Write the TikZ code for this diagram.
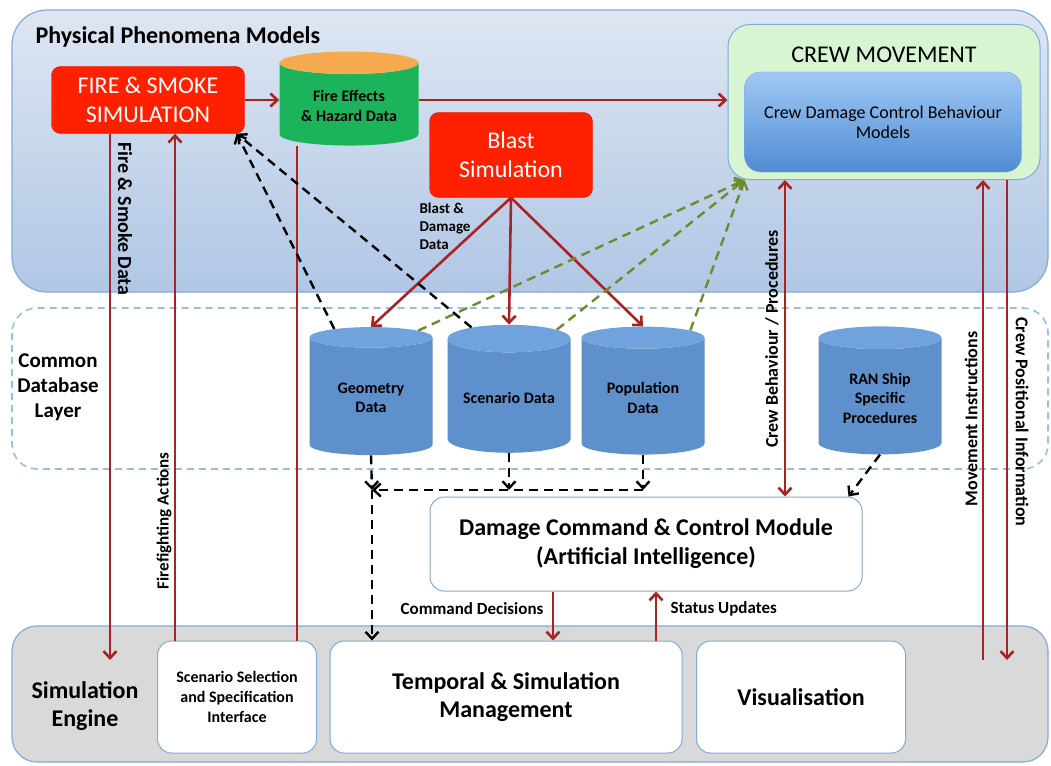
\documentclass[tikz,border=0pt]{standalone}
\usepackage{fontspec}
\setmainfont{Carlito}
\usetikzlibrary{shapes.geometric,arrows.meta}
\definecolor{darkred}{RGB}{170,35,35}
\definecolor{firered}{RGB}{255,32,0}
\definecolor{edgeblue}{RGB}{130,170,220}
\definecolor{dbblue}{RGB}{94,144,204}
\definecolor{dbtop}{RGB}{112,162,220}
\definecolor{hazgreen}{RGB}{28,180,90}
\definecolor{hazorange}{RGB}{245,170,80}
\definecolor{crewgreen}{RGB}{214,245,208}
\definecolor{dashgreen}{RGB}{110,140,45}
\newcommand{\fs}[1]{\fontsize{#1}{#1}\selectfont}
\begin{document}
\begin{tikzpicture}[x=1pt,y=-1pt,
  region/.style={draw=edgeblue,line width=1.2pt,rounded corners=35pt},
  redbox/.style={rectangle,rounded corners=9pt,fill=firered,draw=firered!85!black,text=white,align=center,font=\fs{24}\linespread{1.2}\selectfont},
  dbase/.style={cylinder,shape border rotate=90,aspect=0.28,draw=none,cylinder uses custom fill,cylinder body fill=dbblue,cylinder end fill=dbtop,minimum width=123pt,minimum height=128pt,align=center,font=\bfseries\fs{16}\linespread{1.22}\selectfont},
  whitebox/.style={rectangle,rounded corners=14pt,fill=white,draw=edgeblue,line width=1pt,align=center,font=\bfseries\fs{24}\linespread{1.17}\selectfont},
  flow/.style={draw=darkred,line width=2.6pt,-{Straight Barb[length=7pt,width=13pt]}},
  link/.style={draw=black,line width=2.4pt,dash pattern=on 9pt off 6pt,-{Straight Barb[length=7pt,width=13pt]}},
  hint/.style={draw=dashgreen,line width=2.4pt,dash pattern=on 9pt off 6pt,-{Straight Barb[length=7pt,width=13pt]}},
  tag/.style={font=\bfseries\fs{17}},
  layer/.style={font=\bfseries\fs{21}\linespread{1.2}\selectfont,align=center}]
\useasboundingbox[fill=white] (0,0) rectangle (1051,765);
\draw[region,top color={rgb,255:red,222;green,230;blue,242},bottom color={rgb,255:red,176;green,199;blue,229}] (12,10) rectangle (1048,292);
\draw[region,dash pattern=on 7pt off 5pt,draw={rgb,255:red,150;green,190;blue,230},line width=1.6pt,rounded corners=25pt] (12,308) rectangle (1048,469);
\draw[region,fill={rgb,255:red,217;green,217;blue,217},rounded corners=25pt] (12,626) rectangle (1048,762);
\node at (32,37) [anchor=west,font=\bfseries\fs{24}] (phys) {Physical Phenomena Models};
\node at (58,387) [layer] (cdb) {Common\\Database\\Layer};
\node at (85,706) [layer,font=\bfseries\fs{24}\linespread{1.17}\selectfont] (eng) {Simulation\\Engine};
\node at (148,100) [redbox,minimum width=193pt,minimum height=67pt] (fire) {FIRE \& SMOKE\\SIMULATION};
\node at (349,106) [cylinder,shape border rotate=90,aspect=0.22,cylinder uses custom fill,cylinder body fill=hazgreen,cylinder end fill=hazorange,minimum width=139pt,minimum height=94pt,align=center,font=\bfseries\fs{16}\linespread{1.2}\selectfont] (hazard) {Fire Effects\\\& Hazard Data};
\node at (511,155) [redbox,minimum width=163pt,minimum height=85pt] (blast) {Blast\\Simulation};
\node at (884,102) [rectangle,rounded corners=22pt,fill=crewgreen,draw=edgeblue,line width=1pt,minimum width=312pt,minimum height=155pt] (crew) {};
\node at (884,55) [font=\fs{24}] (crewtitle) {CREW MOVEMENT};
\node at (883,122) [rectangle,rounded corners=16pt,top color={rgb,255:red,160;green,200;blue,245},bottom color={rgb,255:red,80;green,140;blue,212},draw=edgeblue,minimum width=277pt,minimum height=100pt,align=center,font=\fs{18}\linespread{1.12}\selectfont] (models) {Crew Damage Control Behaviour\\Models};
\node at (371,398) [dbase] (geom) {Geometry\\Data};
\node at (509,398) [dbase] (scen) {Scenario Data};
\node at (643,398) [dbase] (popl) {Population\\Data};
\node at (880,398) [dbase] (ran) {RAN Ship\\Specific\\Procedures};
\node at (646,544) [whitebox,minimum width=432pt,minimum height=94pt,font=\bfseries\fs{24}\linespread{1.2}\selectfont] (dcc) {Damage Command \& Control Module\\(Artificial Intelligence)};
\node at (237,697) [whitebox,minimum width=159pt,minimum height=112pt,font=\bfseries\fs{16}\linespread{1.25}\selectfont] (sel) {Scenario Selection\\and Specification\\Interface};
\node at (506,697) [whitebox,minimum width=352pt,minimum height=112pt] (temporal) {Temporal \& Simulation\\Management};
\node at (801,697) [whitebox,minimum width=209pt,minimum height=112pt] (vis) {Visualisation};
\coordinate (fsdata) at (110,660);
\coordinate (bus) at (372,490);
\coordinate (mvin) at (983,660);
\coordinate (cpos) at (1007,660);
\draw[flow] (fire.east) -- (fire.east -| hazard.west);
\draw[flow] (hazard.east |- fire.east) -- (fire.east -| crew.west);
\draw[flow] (fsdata |- fire.south) -- (fsdata);
\draw[flow] ([xshift=-62pt]sel.north) -- ([xshift=-62pt]sel.north |- fire.south);
\draw[darkred,line width=2.6pt] ([xshift=-52pt]hazard.south) -- ([xshift=-52pt]hazard.south |- sel.north);
\draw[flow] (blast.south) -- (geom.north);
\draw[flow] (blast.south) -- (scen.north);
\draw[flow] (blast.south) -- (popl.north);
\draw[link] (geom.118) -- ([xshift=-8pt]fire.south east);
\draw[link] (scen.118) -- ([xshift=-8pt]fire.south east);
\draw[hint] (geom.55) -- ([xshift=17pt]crew.south west);
\draw[hint] (scen.55) -- ([xshift=17pt]crew.south west);
\draw[hint] (popl.55) -- ([xshift=17pt]crew.south west);
\draw[flow,{Straight Barb[length=7pt,width=13pt]}-{Straight Barb[length=7pt,width=13pt]}] ([xshift=-99pt]crew.south) -- ([xshift=-99pt]crew.south |- dcc.north);
\draw[flow] (mvin) -- (mvin |- crew.south);
\draw[flow] (cpos |- crew.south) -- (cpos);
\draw[link] (ran.south) -- ([xshift=-14pt]dcc.north east);
\draw[link] (geom.south) -- (bus);
\draw[link] (scen.south) -- (scen.south |- bus);
\draw[link] (popl.south) -- (popl.south |- bus);
\draw[link] (popl.south |- bus) -- (bus);
\draw[link] (bus) -- (bus |- temporal.north);
\draw[flow] ([xshift=-93pt]dcc.south) -- ([xshift=-93pt]dcc.south |- temporal.north);
\draw[flow] ([xshift=10pt]dcc.south |- temporal.north) -- ([xshift=10pt]dcc.south);
\node at (416,199) [tag,font=\bfseries\fs{15}\linespread{1.23}\selectfont,anchor=north west,align=left] (bdd) {Blast \&\\Damage\\Data};
\node at (547,609) [tag,anchor=east] (cmd) {Command Decisions};
\node at (667,609) [tag,anchor=west] (stat) {Status Updates};
\node at (125,219) [tag,font=\bfseries\fs{20},rotate=-90] (fsd) {Fire \& Smoke Data};
\node at (164,521) [tag,rotate=90] (ffa) {Firefighting Actions};
\node at (772,339) [tag,font=\bfseries\fs{18},rotate=90] (cbp) {Crew Behaviour / Procedures};
\node at (971,419) [tag,font=\bfseries\fs{18},rotate=90] (mvi) {Movement Instructions};
\node at (1022,422) [tag,font=\bfseries\fs{18},rotate=-90] (cpi) {Crew Positional Information};
\end{tikzpicture}
\end{document}
